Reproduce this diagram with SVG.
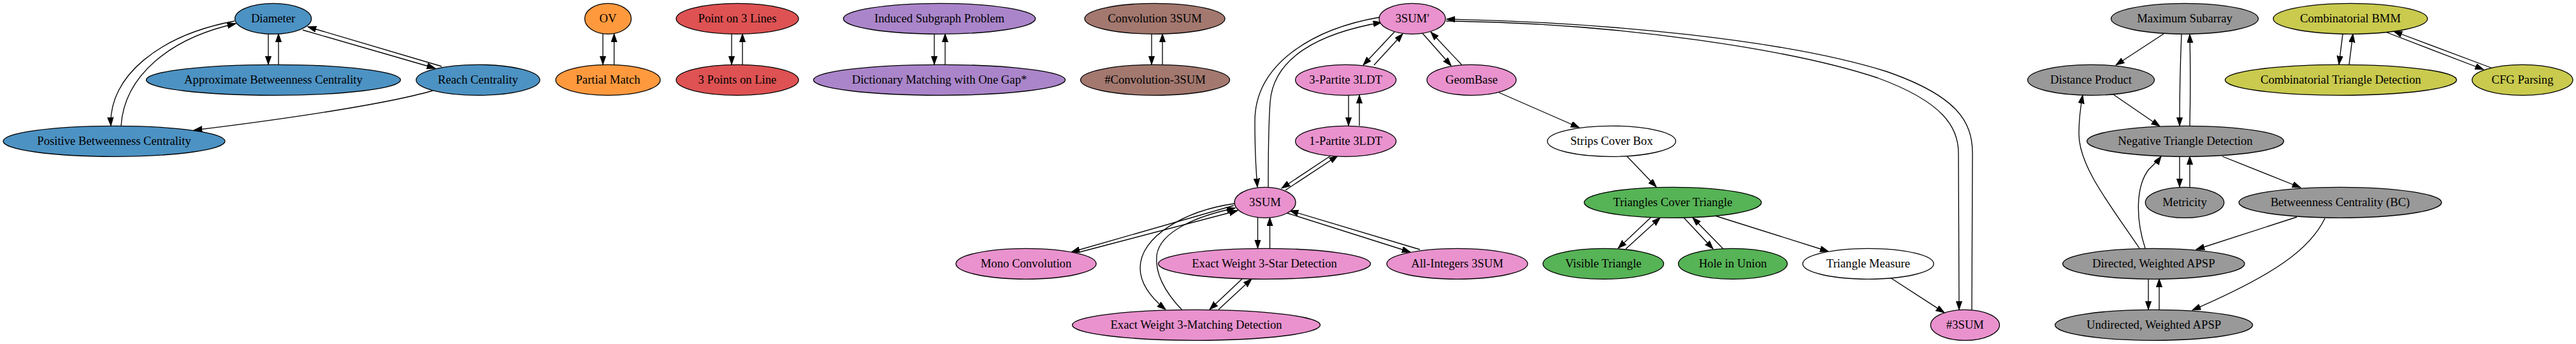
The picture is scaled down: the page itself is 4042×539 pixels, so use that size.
<svg xmlns="http://www.w3.org/2000/svg" width="4042" height="539" viewBox="0 0 4042 539">
<defs>
<style>
.n ellipse{stroke:#000;stroke-width:1.33}
.n text{font-family:"Liberation Serif","Times New Roman",serif;font-size:18.67px;text-anchor:middle;fill:#000}
.e path{fill:none;stroke:#000;stroke-width:1.33}
.e path.a{marker-end:url(#arr)}
.blue{fill:#4c92c3}.orange{fill:#ff993e}.green{fill:#56b356}.red{fill:#de5253}.purple{fill:#aa85ca}.brown{fill:#a3786f}.pink{fill:#e992ce}.grey{fill:#999999}.olive{fill:#c9ca4e}.white{fill:#ffffff}
</style>
<marker id="arr" markerUnits="userSpaceOnUse" markerWidth="14" markerHeight="10" refX="13.3" refY="4.67" orient="auto"><path d="M0,0 L13.3,4.67 L0,9.33 Z" fill="#000" stroke="#000" stroke-width="1"/></marker>
</defs>
<rect width="4042" height="539" fill="#fff"/>
<g id="edges" class="e">
<path class="a" d="M421,53 L421,101"/>
<path class="a" d="M437,101 L437,53"/>
<path class="a" d="M475,47 L683,107"/>
<path class="a" d="M693,104 L483,42"/>
<path class="a" d="M368,33 C250,55 170,120 174,197"/>
<path class="a" d="M190,197 C195,120 265,60 370,37"/>
<path class="a" d="M679,142 C600,165 420,190 304,204"/>
<path class="a" d="M946,53 L946,101"/>
<path class="a" d="M963.6,101 L963.6,53"/>
<path class="a" d="M1148,53 L1148,101"/>
<path class="a" d="M1165,101 L1165,53"/>
<path class="a" d="M1466,53 L1466,101"/>
<path class="a" d="M1483,101 L1483,53"/>
<path class="a" d="M1807,53 L1807,101"/>
<path class="a" d="M1824,101 L1824,53"/>
<path class="a" d="M2188,50 L2139,102"/>
<path class="a" d="M2156,102 L2201,53"/>
<path class="a" d="M2231,51 L2277,103"/>
<path class="a" d="M2294,102 L2245,50"/>
<path class="a" d="M2116,149 L2116,197"/>
<path class="a" d="M2133,197 L2133,149"/>
<path class="a" d="M2165,27 C2060,45 1969,100 1969,190 C1969,240 1971,270 1973,293"/>
<path class="a" d="M1990,293 C1990,250 1990,200 1993,160 C1998,90 2070,52 2168,35"/>
<path class="a" d="M2017,298 L2099,244"/>
<path class="a" d="M2088,244 L2011,295"/>
<path class="a" d="M1936,322 L1681,395"/>
<path class="a" d="M1694,395 L1942,330"/>
<path class="a" d="M1937,319 C1860,330 1789,370 1789,420 C1789,445 1808,468 1829,485"/>
<path class="a" d="M1855,486 C1830,460 1812,430 1815,400 C1820,362 1880,338 1938,326"/>
<path class="a" d="M1973.5,341 L1973.5,389"/>
<path class="a" d="M1992.5,389 L1992.5,341"/>
<path class="a" d="M1949,437 L1898,485"/>
<path class="a" d="M1912,485 L1964,437"/>
<path class="a" d="M2228,391 L2024,330"/>
<path class="a" d="M2020,334 L2213,395"/>
<path class="a" d="M2269,33 C2550,36 2820,80 2946,122 C3050,160 3073,200 3073,240 L3074,485"/>
<path class="a" d="M3094,486 L3095,240 C3095,190 3070,150 2960,112 C2800,62 2520,35 2270,30"/>
<path class="a" d="M2352,145 L2478,200"/>
<path class="a" d="M2553,245 L2599,293"/>
<path class="a" d="M2590,341 L2539,389"/>
<path class="a" d="M2551,390 L2605,341"/>
<path class="a" d="M2642,341 L2688,390"/>
<path class="a" d="M2704,390 L2656,341"/>
<path class="a" d="M2691,338 L2869,394"/>
<path class="a" d="M2966,435 L3051,490"/>
<path class="a" d="M3395,53 L3320,102"/>
<path class="a" d="M3423,53 C3421,100 3420,150 3420,197"/>
<path class="a" d="M3436,197 C3437,150 3437,100 3436,54"/>
<path class="a" d="M3316,148 L3389,198"/>
<path class="a" d="M3357,389 C3310,320 3262,260 3262,210 C3262,185 3265,165 3268,149"/>
<path class="a" d="M3366,389 C3350,340 3352,290 3372,265 C3380,257 3386,252 3391,245"/>
<path class="a" d="M3420,245 L3420,293"/>
<path class="a" d="M3436,293 L3436,245"/>
<path class="a" d="M3487,245 L3610,294"/>
<path class="a" d="M3604,340 L3446,391"/>
<path class="a" d="M3648,342 C3625,390 3570,430 3440,486"/>
<path class="a" d="M3371,437 L3371,485"/>
<path class="a" d="M3388,485 L3388,437"/>
<path class="a" d="M3676,53 L3670,101"/>
<path class="a" d="M3686,101 L3692,53"/>
<path class="a" d="M3743,50 L3897,109"/>
<path class="a" d="M3911,107 L3756,49"/>
</g>
<g id="diameter" class="n"><ellipse class="blue" cx="428.6" cy="29.3" rx="60" ry="24"/><text x="428.6" y="35.3">Diameter</text></g>
<g id="approx_bc" class="n"><ellipse class="blue" cx="429" cy="125.3" rx="199.5" ry="24"/><text x="429" y="131.3">Approximate Betweenness Centrality</text></g>
<g id="reach" class="n"><ellipse class="blue" cx="750" cy="125.3" rx="97" ry="24"/><text x="750" y="131.3">Reach Centrality</text></g>
<g id="positive_bc" class="n"><ellipse class="blue" cx="179" cy="221.3" rx="174" ry="24"/><text x="179" y="227.3">Positive Betweenness Centrality</text></g>
<g id="ov" class="n"><ellipse class="orange" cx="954" cy="29.3" rx="36.5" ry="24"/><text x="954" y="35.3">OV</text></g>
<g id="partial_match" class="n"><ellipse class="orange" cx="954" cy="125.3" rx="82" ry="24"/><text x="954" y="131.3">Partial Match</text></g>
<g id="point_on_3_lines" class="n"><ellipse class="red" cx="1157" cy="29.3" rx="96" ry="24"/><text x="1157" y="35.3">Point on 3 Lines</text></g>
<g id="points_on_line" class="n"><ellipse class="red" cx="1157" cy="125.3" rx="96" ry="24"/><text x="1157" y="131.3">3 Points on Line</text></g>
<g id="induced_subgraph" class="n"><ellipse class="purple" cx="1474" cy="29.3" rx="150.7" ry="24"/><text x="1474" y="35.3">Induced Subgraph Problem</text></g>
<g id="dictionary_matching" class="n"><ellipse class="purple" cx="1474" cy="125.3" rx="197.5" ry="24"/><text x="1474" y="131.3">Dictionary Matching with One Gap*</text></g>
<g id="convolution_3sum" class="n"><ellipse class="brown" cx="1812" cy="29.3" rx="110" ry="24"/><text x="1812" y="35.3">Convolution 3SUM</text></g>
<g id="count_convolution_3sum" class="n"><ellipse class="brown" cx="1812.5" cy="125.3" rx="117" ry="24"/><text x="1812.5" y="131.3">#Convolution-3SUM</text></g>
<g id="sum3_prime" class="n"><ellipse class="pink" cx="2216" cy="29.3" rx="52" ry="24"/><text x="2216" y="35.3">3SUM'</text></g>
<g id="partite3_3ldt" class="n"><ellipse class="pink" cx="2111.6" cy="125.3" rx="79" ry="24"/><text x="2111.6" y="131.3">3-Partite 3LDT</text></g>
<g id="geombase" class="n"><ellipse class="pink" cx="2309" cy="125.3" rx="70" ry="24"/><text x="2309" y="131.3">GeomBase</text></g>
<g id="partite1_3ldt" class="n"><ellipse class="pink" cx="2111.6" cy="221.3" rx="79" ry="24"/><text x="2111.6" y="227.3">1-Partite 3LDT</text></g>
<g id="strips_cover_box" class="n"><ellipse class="white" cx="2528.7" cy="221.3" rx="100.7" ry="24"/><text x="2528.7" y="227.3">Strips Cover Box</text></g>
<g id="sum3" class="n"><ellipse class="pink" cx="1985" cy="317.3" rx="48" ry="24"/><text x="1985" y="323.3">3SUM</text></g>
<g id="triangles_cover_triangle" class="n"><ellipse class="green" cx="2624.8" cy="317.3" rx="139" ry="24"/><text x="2624.8" y="323.3">Triangles Cover Triangle</text></g>
<g id="mono_convolution" class="n"><ellipse class="pink" cx="1610" cy="413.3" rx="110" ry="24"/><text x="1610" y="419.3">Mono Convolution</text></g>
<g id="exact_3star" class="n"><ellipse class="pink" cx="1984" cy="413.3" rx="166.5" ry="24"/><text x="1984" y="419.3">Exact Weight 3-Star Detection</text></g>
<g id="all_integers_3sum" class="n"><ellipse class="pink" cx="2286.5" cy="413.3" rx="110.5" ry="24"/><text x="2286.5" y="419.3">All-Integers 3SUM</text></g>
<g id="visible_triangle" class="n"><ellipse class="green" cx="2515.8" cy="413.3" rx="94.7" ry="24"/><text x="2515.8" y="419.3">Visible Triangle</text></g>
<g id="hole_in_union" class="n"><ellipse class="green" cx="2719" cy="413.3" rx="85.5" ry="24"/><text x="2719" y="419.3">Hole in Union</text></g>
<g id="triangle_measure" class="n"><ellipse class="white" cx="2931.4" cy="413.3" rx="102.7" ry="24"/><text x="2931.4" y="419.3">Triangle Measure</text></g>
<g id="exact_3matching" class="n"><ellipse class="pink" cx="1877" cy="509.3" rx="194.5" ry="24"/><text x="1877" y="515.3">Exact Weight 3-Matching Detection</text></g>
<g id="count_3sum" class="n"><ellipse class="pink" cx="3083.4" cy="509.3" rx="54" ry="24"/><text x="3083.4" y="515.3">#3SUM</text></g>
<g id="maximum_subarray" class="n"><ellipse class="grey" cx="3428" cy="29.3" rx="115.5" ry="24"/><text x="3428" y="35.3">Maximum Subarray</text></g>
<g id="combinatorial_bmm" class="n"><ellipse class="olive" cx="3688" cy="29.3" rx="121" ry="24"/><text x="3688" y="35.3">Combinatorial BMM</text></g>
<g id="distance_product" class="n"><ellipse class="grey" cx="3281" cy="125.3" rx="99.4" ry="24"/><text x="3281" y="131.3">Distance Product</text></g>
<g id="combinatorial_triangle" class="n"><ellipse class="olive" cx="3673" cy="125.3" rx="181.6" ry="24"/><text x="3673" y="131.3">Combinatorial Triangle Detection</text></g>
<g id="cfg_parsing" class="n"><ellipse class="olive" cx="3958" cy="125.3" rx="79" ry="24"/><text x="3958" y="131.3">CFG Parsing</text></g>
<g id="negative_triangle" class="n"><ellipse class="grey" cx="3429" cy="221.3" rx="154.4" ry="24"/><text x="3429" y="227.3">Negative Triangle Detection</text></g>
<g id="metricity" class="n"><ellipse class="grey" cx="3428" cy="317.3" rx="61.7" ry="24"/><text x="3428" y="323.3">Metricity</text></g>
<g id="betweenness_centrality" class="n"><ellipse class="grey" cx="3672" cy="317.3" rx="159" ry="24"/><text x="3672" y="323.3">Betweenness Centrality (BC)</text></g>
<g id="directed_apsp" class="n"><ellipse class="grey" cx="3379.3" cy="413.3" rx="142.7" ry="24"/><text x="3379.3" y="419.3">Directed, Weighted APSP</text></g>
<g id="undirected_apsp" class="n"><ellipse class="grey" cx="3379.6" cy="509.3" rx="155" ry="24"/><text x="3379.6" y="515.3">Undirected, Weighted APSP</text></g>
</svg>
